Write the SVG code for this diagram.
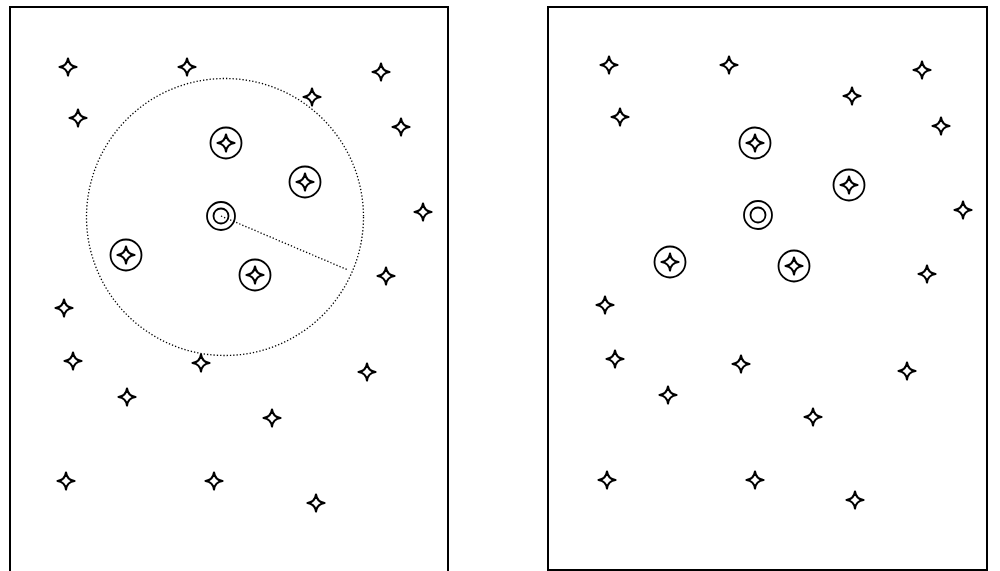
<svg xmlns="http://www.w3.org/2000/svg" width="1000" height="571" viewBox="0 0 1000 571">
<defs>
<style>
.frame{fill:#fff;stroke:#000;stroke-width:2}
.st{fill:#fff;stroke:#000;stroke-width:2.1;stroke-linejoin:round}
.ring{fill:none;stroke:#000;stroke-width:1.8}
.dot{fill:none;stroke:#000;stroke-width:1.3;stroke-dasharray:1.3 2}
</style>
<path id="star" class="st" d="M0,-8.5 Q1,-1 8.5,0 Q1,1 0,8.5 Q-1,1 -8.5,0 Q-1,-1 0,-8.5 Z"/>
</defs>
<rect x="0" y="0" width="1000" height="571" fill="#fff"/>
<g id="left-panel">
<rect class="frame" x="10" y="7" width="438" height="575"/>
<g id="left-radius">
<circle class="dot" cx="225" cy="217" r="138.5"/>
<line class="dot" x1="221" y1="216" x2="348" y2="270"/>
</g>
<g id="left-stars">
<use href="#star" x="68" y="67"/><use href="#star" x="187" y="67"/><use href="#star" x="381" y="72"/>
<use href="#star" x="312" y="97"/><use href="#star" x="78" y="118"/><use href="#star" x="401" y="127"/>
<use href="#star" x="226" y="143"/><use href="#star" x="305" y="182"/><use href="#star" x="423" y="212"/>
<use href="#star" x="126" y="255"/><use href="#star" x="255" y="275"/><use href="#star" x="386" y="276"/>
<use href="#star" x="64" y="308"/><use href="#star" x="73" y="361"/><use href="#star" x="201" y="363"/>
<use href="#star" x="367" y="372"/><use href="#star" x="127" y="397"/><use href="#star" x="272" y="418"/>
<use href="#star" x="66" y="481"/><use href="#star" x="214" y="481"/><use href="#star" x="316" y="503"/>
</g>
<g id="left-rings">
<circle class="ring" cx="226" cy="143" r="15.5"/><circle class="ring" cx="305" cy="182" r="15.5"/>
<circle class="ring" cx="126" cy="255" r="15.5"/><circle class="ring" cx="255" cy="275" r="15.5"/>
</g>
<g id="left-query">
<circle class="ring" cx="221" cy="216" r="14" stroke-width="2.6"/>
<circle class="ring" cx="221" cy="216" r="7.5"/>
</g>
</g>
<g id="right-panel">
<rect class="frame" x="548" y="7" width="439" height="563"/>
<g id="right-stars">
<use href="#star" x="609" y="65"/><use href="#star" x="729" y="65"/><use href="#star" x="922" y="70"/>
<use href="#star" x="852" y="96"/><use href="#star" x="620" y="117"/><use href="#star" x="941" y="126"/>
<use href="#star" x="755" y="143"/><use href="#star" x="849" y="185"/><use href="#star" x="963" y="210"/>
<use href="#star" x="670" y="262"/><use href="#star" x="794" y="266"/><use href="#star" x="927" y="274"/>
<use href="#star" x="605" y="305"/><use href="#star" x="615" y="359"/><use href="#star" x="741" y="364"/>
<use href="#star" x="907" y="371"/><use href="#star" x="668" y="395"/><use href="#star" x="813" y="417"/>
<use href="#star" x="607" y="480"/><use href="#star" x="755" y="480"/><use href="#star" x="855" y="500"/>
</g>
<g id="right-rings">
<circle class="ring" cx="755" cy="143" r="15.5"/><circle class="ring" cx="849" cy="185" r="15.5"/>
<circle class="ring" cx="670" cy="262" r="15.5"/><circle class="ring" cx="794" cy="266" r="15.5"/>
</g>
<g id="right-query">
<circle class="ring" cx="758" cy="215" r="14" stroke-width="2.2"/>
<circle class="ring" cx="758" cy="215" r="7.5" stroke-width="2.2"/>
</g>
</g>
</svg>
